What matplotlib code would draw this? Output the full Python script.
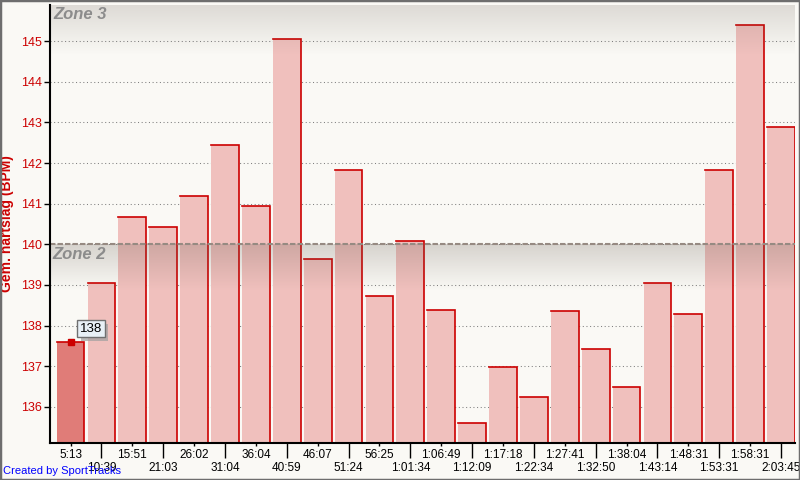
import numpy as np
import matplotlib
matplotlib.use("Agg")
import matplotlib.pyplot as plt
import matplotlib.patheffects as pe
from matplotlib.patches import Rectangle

# ---- data ----
time_labels = ["5:13", "10:39", "15:51", "21:03", "26:02", "31:04", "36:04", "40:59",
               "46:07", "51:24", "56:25", "1:01:34", "1:06:49", "1:12:09", "1:17:18",
               "1:22:34", "1:27:41", "1:32:50", "1:38:04", "1:43:14", "1:48:31",
               "1:53:31", "1:58:31", "2:03:45"]
avg_hr = [137.6, 139.04, 140.67, 140.42, 141.19, 142.44, 140.94, 145.05,
          139.64, 141.83, 138.73, 140.08, 138.39, 135.60, 136.98, 136.25,
          138.36, 137.43, 136.49, 139.05, 138.29, 141.83, 145.41, 142.88]
y_ticks = [136, 137, 138, 139, 140, 141, 142, 143, 144, 145]
zone2_limit = 140
selected_index = 0
tooltip_text = "138"

plt.rcParams["font.family"] = ["Liberation Sans", "DejaVu Sans"]

BG = "#FAF9F5"
RED = "#CC0000"
BAR = "#F0C0BD"
BAR_SEL = "#E07C78"

fig = plt.figure(figsize=(8, 4.8), dpi=100, facecolor=BG)
ax = fig.add_axes([50/800, 37/480, 745/800, 438/480])
ax.set_facecolor(BG)

n = len(avg_hr)
x = np.arange(n)
ymin, ymax = 135.11, 145.89
xlim = (-0.664, n - 1 + 0.453)

# grid
for t in y_ticks:
    ax.axhline(t, color="#808080", lw=0.75, ls=(0, (1, 2.5)), zorder=1)

# bars
w = 0.9
colors = [BAR_SEL if i == selected_index else BAR for i in range(n)]
ax.bar(x, np.array(avg_hr) - ymin, bottom=ymin, width=w, color=colors,
       edgecolor="none", zorder=2)
# red top and right edges
for i, v in enumerate(avg_hr):
    ax.plot([i - w/2, i + w/2, i + w/2], [v, v, ymin], color=RED, lw=1.2,
            solid_joinstyle="miter", zorder=3)

# zone gradients
def gradient(y0, y1, amax, color=(0.40, 0.36, 0.32)):
    h = 64
    a = np.linspace(amax, 0, h)[:, None]
    img = np.zeros((h, 2, 4))
    img[..., 0], img[..., 1], img[..., 2] = color
    img[..., 3] = a
    ax.imshow(img, extent=(xlim[0], xlim[1], y1, y0),
              aspect="auto", interpolation="bilinear", zorder=4, origin="upper")

gradient(ymax, 144.65, 0.2)
gradient(zone2_limit, 138.85, 0.24)
ax.set_xlim(*xlim)
ax.set_ylim(ymin, ymax)

ax.axhline(zone2_limit, color="#968A82", lw=1.5, ls=(0, (2.6, 1)), zorder=5)
ax.text(0.004, 0.995, "Zone 3", transform=ax.transAxes, ha="left", va="top",
        fontsize=12, fontstyle="italic", fontweight="bold", color="#8C8C8C", zorder=6)
ax.text(-0.6, zone2_limit - 0.06, "Zone 2", ha="left", va="top",
        fontsize=12, fontstyle="italic", fontweight="bold", color="#8C8C8C", zorder=6)

# tooltip
sv = avg_hr[selected_index]
ax.plot([selected_index], [sv], marker="s", ms=5, color=RED, mec=RED, zorder=7)
tip = ax.annotate(tooltip_text, xy=(selected_index, sv), xytext=(20.5, 13),
                  textcoords="offset pixels", ha="center", va="center", fontsize=9.5,
                  color="black", zorder=8,
                  bbox=dict(boxstyle="square,pad=0.2", fc="#E8F0F6", ec="#707070", lw=1))
tip.get_bbox_patch().set_path_effects([
    pe.SimplePatchShadow(offset=(2.5, -2.5), shadow_rgbFace="#A0A0A0", alpha=0.7),
    pe.Normal()])

# spines
for s in ["top", "right"]:
    ax.spines[s].set_visible(False)
for s in ["left", "bottom"]:
    ax.spines[s].set_color("black")
    ax.spines[s].set_linewidth(1.5)
    ax.spines[s].set_zorder(9)

ax.set_yticks(y_ticks)
ax.set_yticklabels([str(t) for t in y_ticks])
ax.tick_params(axis="y", colors="black", labelcolor=RED, length=4, width=1,
               labelsize=9, pad=2)

ax.set_xticks(x[0::2], [time_labels[i] for i in range(0, n, 2)])
ax.set_xticks(x[1::2], [time_labels[i] for i in range(1, n, 2)], minor=True)
ax.tick_params(axis="x", which="major", length=2.5, width=1, labelsize=8.5, pad=1.5)
ax.tick_params(axis="x", which="minor", length=10.8, width=1, labelsize=8.5, pad=3)

ax.set_ylabel("Gem. hartslag (BPM)", color=RED, fontsize=10, fontweight="bold")
ax.yaxis.set_label_coords(-36/745, 0.5)

fig.text(3/800, 1 - 471/480, "Created by SportTracks", color="#0000FF",
         fontsize=8, ha="left", va="center")

# outer frame
fig.patches.append(Rectangle((0, 0), 1, 1, transform=fig.transFigure, fill=False,
                             ec="#6E6E6E", lw=2.5, zorder=10))

fig.savefig("out.png", dpi=100, facecolor=BG)
